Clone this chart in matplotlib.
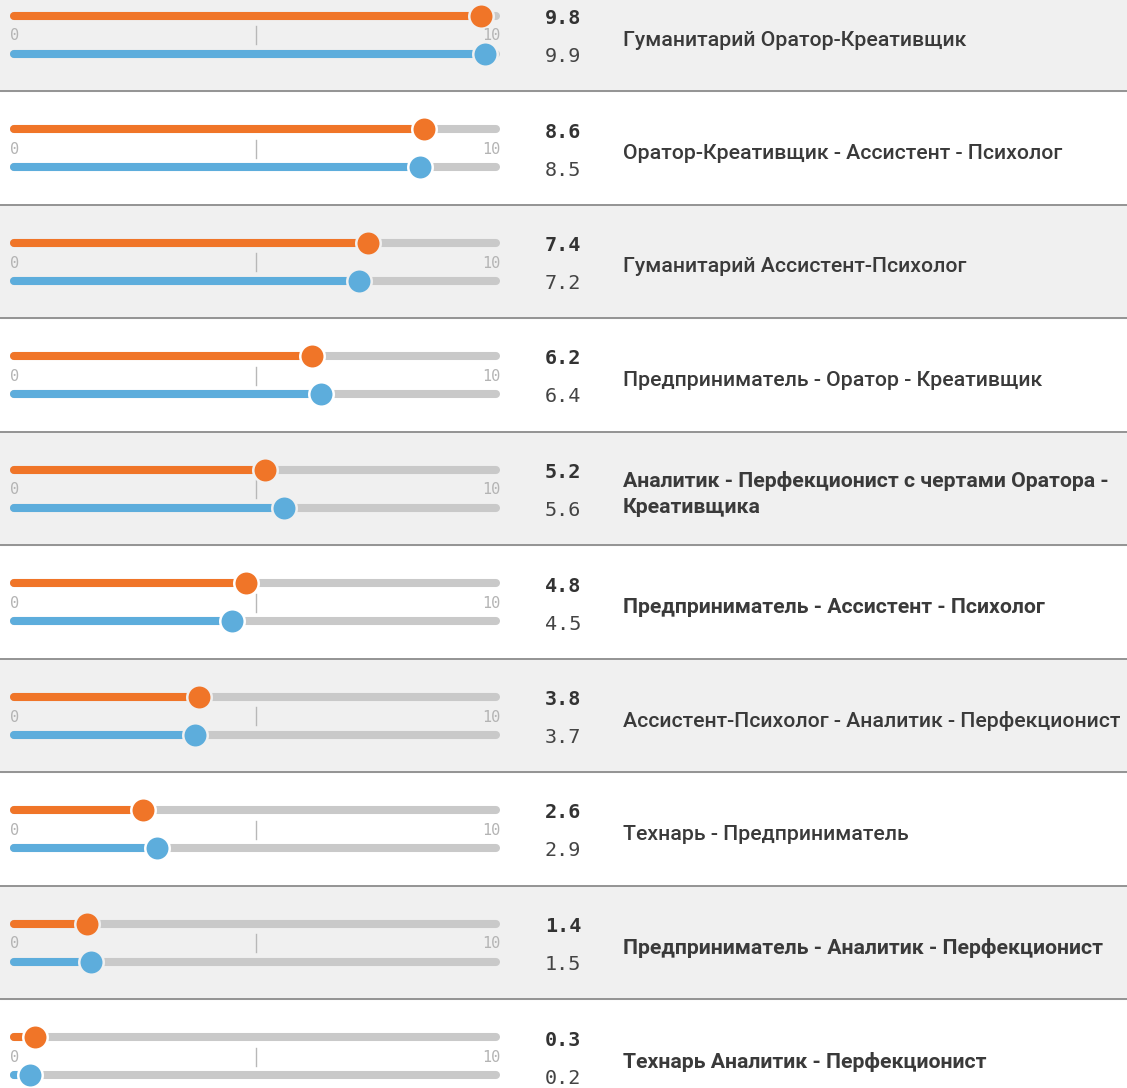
import matplotlib.pyplot as plt

labels = [
    "Гуманитарий Оратор-Креативщик",
    "Оратор-Креативщик - Ассистент - Психолог",
    "Гуманитарий Ассистент-Психолог",
    "Предприниматель - Оратор - Креативщик",
    "Аналитик - Перфекционист с чертами Оратора -\nКреативщика",
    "Предприниматель - Ассистент - Психолог",
    "Ассистент-Психолог - Аналитик - Перфекционист",
    "Технарь - Предприниматель",
    "Предприниматель - Аналитик - Перфекционист",
    "Технарь Аналитик - Перфекционист",
]
orange_vals = [9.8, 8.6, 7.4, 6.2, 5.2, 4.8, 3.8, 2.6, 1.4, 0.3]
blue_vals = [9.9, 8.5, 7.2, 6.4, 5.6, 4.5, 3.7, 2.9, 1.5, 0.2]
label_weights = ["medium", "medium", "medium", "medium", "bold",
                 "bold", "medium", "medium", "bold", "bold"]

ORANGE = "#f07528"
BLUE = "#5daddc"
TRACK = "#c9c9c9"
GRAY_BG = "#f0f0f0"
SEP = "#8c8c8c"

W, H = 1127, 1088
row_h = 113.5
row0 = -22.5

# slider x mapping: value 0 -> 21px, 10 -> 490px; track spans 10..500px
px_per = 46.9
v_lo = (10 - 21) / px_per
v_hi = (500 - 21) / px_per
cap = 4 / px_per

fig = plt.figure(figsize=(W / 100, H / 100), dpi=100)
bg = fig.add_axes([0, 0, 1, 1])
bg.set_xlim(0, W)
bg.set_ylim(H, 0)
bg.axis("off")

sl = fig.add_axes([10 / W, 0, 490 / W, 1])
sl.set_xlim(v_lo, v_hi)
sl.set_ylim(H, 0)
sl.axis("off")
sl.patch.set_alpha(0)

for i in range(len(labels)):
    top = row0 + i * row_h
    if i % 2 == 0:
        bg.axhspan(top, top + row_h, color=GRAY_BG, zorder=0)
    if i < len(labels) - 1:
        bg.axhline(top + row_h, color=SEP, lw=1.3, zorder=1)
    rowbg = GRAY_BG if i % 2 == 0 else "white"

    for val, color, dy in [(orange_vals[i], ORANGE, 38), (blue_vals[i], BLUE, 76)]:
        y = top + dy
        sl.plot([v_lo + cap, v_hi - cap], [y, y], color=TRACK, lw=5.8,
                solid_capstyle="round", zorder=1)
        sl.plot([v_lo + cap, val], [y, y], color=color, lw=5.8,
                solid_capstyle="round", zorder=2)
        sl.plot([val], [y], "o", color=color, ms=17.6, mec=rowbg, mew=1.8, zorder=3)

    sl.plot([5, 5], [top + 48.5, top + 66.5], color="#b8b8b8", lw=1, zorder=1)
    sl.text(v_lo, top + 58.5, "0", ha="left", va="center", fontsize=11,
            family="DejaVu Sans Mono", color="#b4b4b4")
    sl.text(v_hi, top + 58.5, "10", ha="right", va="center", fontsize=11,
            family="DejaVu Sans Mono", color="#b4b4b4")

    bg.text(545, top + 41, f"{orange_vals[i]:.1f}", ha="left", va="center",
            fontsize=14.5, family="DejaVu Sans Mono", fontweight="bold", color="#333333")
    bg.text(545, top + 79, f"{blue_vals[i]:.1f}", ha="left", va="center",
            fontsize=14.5, family="DejaVu Sans Mono", color="#444444")
    bg.text(623, top + 62.5, labels[i], ha="left", va="center", fontsize=15.3,
            family="Roboto", fontweight=label_weights[i], color="#3a3a3a",
            linespacing=1.5)

fig.savefig("out.png", dpi=100)
